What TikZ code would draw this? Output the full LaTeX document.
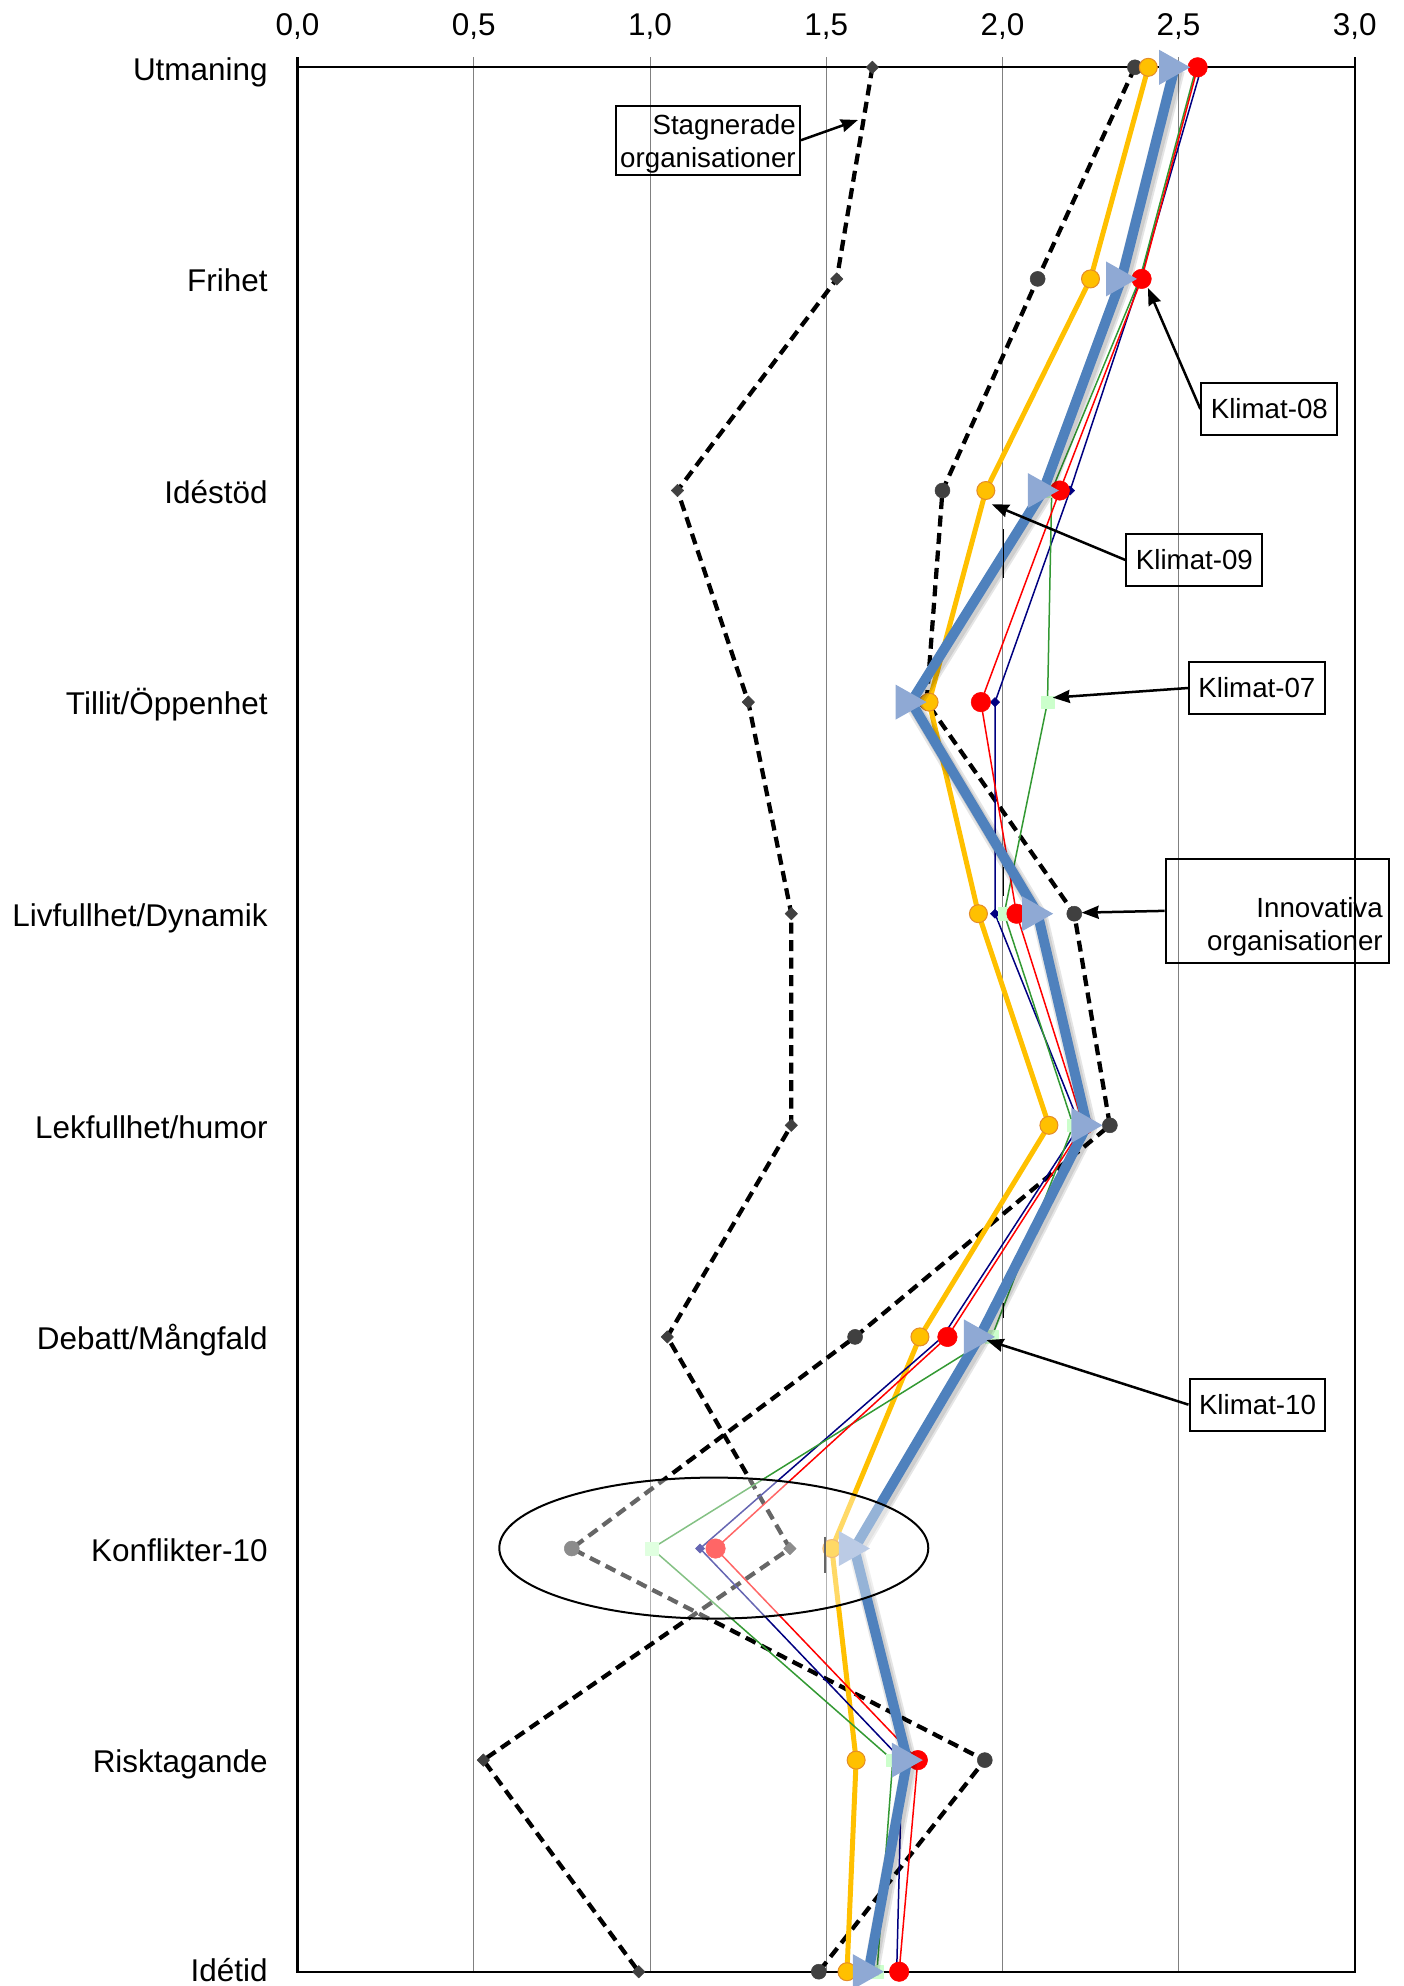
\documentclass[tikz,border=0pt]{standalone}
\usepackage{fontspec}
\setmainfont{Liberation Sans}
\usetikzlibrary{plotmarks,arrows.meta}
\definecolor{klimblue}{RGB}{79,129,189}
\definecolor{klimtri}{RGB}{143,169,212}
\definecolor{klimgold}{RGB}{255,192,0}
\definecolor{goldedge}{RGB}{228,140,40}
\definecolor{klimgreen}{RGB}{51,153,51}
\definecolor{palegreen}{RGB}{204,255,204}
\definecolor{klimnavy}{RGB}{0,0,128}
\definecolor{markgrey}{RGB}{64,64,64}
\definecolor{gridgrey}{RGB}{128,128,128}
\newcommand{\catfont}{\fontsize{17.9pt}{21pt}\selectfont}
\newcommand{\boxfont}{\fontsize{15.76pt}{18.6pt}\selectfont}
\pgfdeclareplotmark{ktri}{%
  \pgfpathmoveto{\pgfpoint{0.31cm}{0cm}}%
  \pgfpathlineto{\pgfpoint{-0.31cm}{0.35cm}}%
  \pgfpathlineto{\pgfpoint{-0.31cm}{-0.35cm}}%
  \pgfpathclose\pgfusepathqfill}

\begin{document}
\begin{tikzpicture}[x=7.048cm,y=-4.232cm,>={Stealth[length=0.34cm,width=0.26cm,inset=0.03cm]},
    catlabel/.style={anchor=base east,inner sep=0pt,font=\catfont},
    ticklabel/.style={anchor=base,inner sep=0pt,font=\catfont},
    gridline/.style={gridgrey,line width=0.02cm},
    plotframe/.style={black,line width=0.046cm},
    callout/.style={draw,line width=0.04cm,inner xsep=0.19cm,inner ysep=0pt,minimum height=1.04cm,align=right,font=\boxfont},
    callarrow/.style={->,line width=0.05cm},
    orgline/.style={black,line width=0.085cm,dash pattern=on 0.22cm off 0.13cm,line join=round},
    thinklim/.style={line width=0.03cm,line join=round}]
        \useasboundingbox (-0.8445,-0.3181) rectangle (3.1368,9.0676);

        \draw[gridline] (0.5,-0.047) -- (0.5,9);
        \draw[gridline] (1.0,-0.047) -- (1.0,9);
        \draw[gridline] (1.5,-0.047) -- (1.5,9);
        \draw[gridline] (2.0,-0.047) -- (2.0,9);
        \draw[gridline] (2.5,-0.047) -- (2.5,9);
        \draw[plotframe] (0,0) rectangle (3,9);
        \draw[plotframe] (0,-0.047) -- (0,0) (3,-0.047) -- (3,0);

        \node (t00) [ticklabel] at (0,-0.1526) {0,0};
        \node (t05) [ticklabel] at (0.5,-0.1526) {0,5};
        \node (t10) [ticklabel] at (1.0,-0.1526) {1,0};
        \node (t15) [ticklabel] at (1.5,-0.1526) {1,5};
        \node (t20) [ticklabel] at (2.0,-0.1526) {2,0};
        \node (t25) [ticklabel] at (2.5,-0.1526) {2,5};
        \node (t30) [ticklabel] at (3.0,-0.1526) {3,0};

        \node (utmaning) [catlabel] at (-0.084,0.06) {Utmaning};
        \node (frihet) [catlabel] at (-0.084,1.06) {Frihet};
        \node (idestod) [catlabel] at (-0.084,2.06) {Idéstöd};
        \node (tillit) [catlabel] at (-0.084,3.06) {Tillit/Öppenhet};
        \node (livfullhet) [catlabel] at (-0.084,4.06) {Livfullhet/Dynamik};
        \node (lekfullhet) [catlabel] at (-0.084,5.06) {Lekfullhet/humor};
        \node (debatt) [catlabel] at (-0.084,6.06) {Debatt/Mångfald};
        \node (konflikter) [catlabel] at (-0.084,7.06) {Konflikter-10};
        \node (risk) [catlabel] at (-0.084,8.06) {Risktagande};
        \node (idetid) [catlabel] at (-0.084,9.047) {Idétid};

        \draw[orgline] plot[mark=square*,mark size=0.088cm,mark options={solid,rotate=45,fill=markgrey,draw=markgrey,line width=0.01cm}]
            coordinates {(1.631,0) (1.530,1) (1.078,2) (1.279,3) (1.401,4) (1.401,5) (1.049,6) (1.397,7) (0.527,8) (0.968,9)};
        \draw[orgline] plot[mark=*,mark size=0.15cm,mark options={solid,fill=markgrey,draw=markgrey,line width=0.01cm}]
            coordinates {(2.376,0) (2.100,1) (1.830,2) (1.785,3) (2.204,4) (2.305,5) (1.582,6) (0.778,7) (1.950,8) (1.479,9)};
        \draw[klimgold,line width=0.1cm,line join=round] plot[mark=*,mark size=0.18cm,mark options={fill=klimgold,draw=goldedge,line width=0.02cm}]
            coordinates {(2.414,0) (2.250,1) (1.953,2) (1.792,3) (1.932,4) (2.132,5) (1.766,6) (1.516,7) (1.585,8) (1.559,9)};
        \draw[thinklim,klimnavy] plot[mark=square*,mark size=0.065cm,mark options={rotate=45,fill=klimnavy,draw=klimnavy,line width=0.01cm}]
            coordinates {(2.565,0) (2.391,1) (2.192,2) (1.979,3) (1.979,4) (2.220,5) (1.830,6) (1.142,7) (1.715,8) (1.700,9)};
        \draw[thinklim,klimgreen] plot[mark=square*,mark size=0.125cm,mark options={fill=palegreen,draw=palegreen,line width=0.01cm}]
            coordinates {(2.550,0) (2.390,1) (2.140,2) (2.128,3) (2.005,4) (2.201,5) (1.970,6) (1.005,7) (1.689,8) (1.644,9)};
        \draw[thinklim,red] plot[mark=*,mark size=0.195cm,mark options={fill=red,draw=red,line width=0.01cm}]
            coordinates {(2.554,0) (2.395,1) (2.163,2) (1.939,3) (2.040,4) (2.230,5) (1.844,6) (1.186,7) (1.760,8) (1.707,9)};
        \draw[black,opacity=0.1,line width=0.32cm,line join=round,shift={(0.006,0.014)}] plot
            coordinates {(2.489,0) (2.338,1) (2.116,2) (1.741,3) (2.100,4) (2.240,5) (1.935,6) (1.580,7) (1.730,8) (1.620,9)};
        \draw[black,opacity=0.1,line width=0.24cm,line join=round,shift={(0.006,0.014)}] plot
            coordinates {(2.489,0) (2.338,1) (2.116,2) (1.741,3) (2.100,4) (2.240,5) (1.935,6) (1.580,7) (1.730,8) (1.620,9)};
        \draw[klimblue,line width=0.2cm,line join=round] plot[mark=ktri,mark options={fill=klimtri}]
            coordinates {(2.489,0) (2.338,1) (2.116,2) (1.741,3) (2.100,4) (2.240,5) (1.935,6) (1.580,7) (1.730,8) (1.620,9)};

        \draw[line width=0.035cm] (2.003,2.182) -- (2.003,2.413);
        \draw[line width=0.035cm] (2.003,3.778) -- (2.003,3.917);
        \draw[line width=0.035cm] (2.003,5.840) -- (2.003,5.911);
        \draw[line width=0.035cm] (1.497,6.944) -- (1.497,7.117);

        \coordinate (konfl) at (1.181,6.998);
        \draw[line width=0.04cm,fill=white,fill opacity=0.4] (konfl) ellipse [x radius=4.29cm,y radius=1.41cm];

        \node (stagbox) [callout,minimum width=3.68cm,minimum height=1.38cm,inner xsep=0.05cm] at (1.1646,0.3445) {\rule{0pt}{0.56cm}Stagnerade\\organisationer};
        \node (innovbox) [callout,text width=4.214cm,inner xsep=0.126cm,minimum height=2.074cm] at (2.7802,3.9865) {\rule{0pt}{1.04cm}Innovativa\\organisationer};
        \node (k08) [callout] at (2.7575,1.6148) {Klimat-08};
        \node (k09) [callout] at (2.5449,2.3284) {Klimat-09};
        \node (k07) [callout] at (2.7222,2.9334) {Klimat-07};
        \node (k10) [callout] at (2.7239,6.3202) {Klimat-10};

        \coordinate (stagtip) at (1.590,0.249);
        \coordinate (k08tip) at (2.413,1.043);
        \coordinate (k09tip) at (1.970,2.065);
        \coordinate (k07tip) at (2.143,2.979);
        \coordinate (innovtip) at (2.225,3.995);
        \coordinate (k10tip) at (1.955,6.015);

        \draw[callarrow] (stagbox.east) -- (stagtip);
        \draw[callarrow] (k08.west) -- (k08tip);
        \draw[callarrow] (k09.west) -- (k09tip);
        \draw[callarrow] (k07.west) -- (k07tip);
        \draw[callarrow] (innovbox.west) -- (innovtip);
        \draw[callarrow] (k10.west) -- (k10tip);
    \end{tikzpicture}
\end{document}
